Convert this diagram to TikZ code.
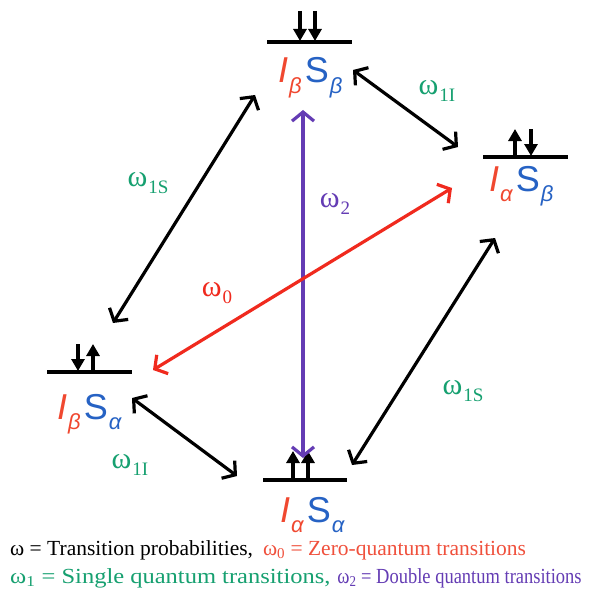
\documentclass[tikz,border=0pt]{standalone}
\usepackage{graphicx}
\usepackage{fontspec}
\setmainfont{Liberation Serif}
\newfontfamily\lsans{Liberation Sans}
\usetikzlibrary{arrows.meta}
\definecolor{ired}{RGB}{240,72,48}
\definecolor{sblue}{RGB}{38,98,196}
\definecolor{wgreen}{RGB}{22,160,112}
\definecolor{wpurple}{RGB}{100,60,180}
\definecolor{wred}{RGB}{240,42,30}
\definecolor{lred}{RGB}{240,80,60}
\newcommand\spinlab[2]{{\lsans\fontsize{36}{36}\selectfont\color{ired}\itshape I\kern1pt\raisebox{-0.3em}{\fontsize{22}{22}\selectfont #1}\kern3pt\upshape\color{sblue}S\kern1pt\itshape\raisebox{-0.3em}{\fontsize{22}{22}\selectfont #2}}}
\newcommand\omlab[1]{\fontsize{30}{30}\selectfont ω\kern1pt\raisebox{-0.25em}{\fontsize{19}{19}\selectfont #1}}
\tikzset{
  level/.style={line width=3.6pt},
  spin/.style={line width=3.6pt,-{Triangle[length=12pt,width=13pt]}},
  tr/.style={line width=3.2pt,{Straight Barb[length=9pt,width=22pt]}-{Straight Barb[length=9pt,width=22pt]}},
  lab/.style={inner sep=0pt,anchor=base west},
  om/.style={inner sep=0pt,text=wgreen},
}
\begin{document}
\begin{tikzpicture}[x=1pt,y=-1pt]
\useasboundingbox[fill=white] (0,0) rectangle (590,591);
% levels
\draw[level] (267,42) -- (352,42);
\draw[level] (483,157) -- (568,157);
\draw[level] (47,372) -- (132,372);
\draw[level] (263,480) -- (347,480);
% spins
\draw[spin] (300,11) -- (300,41);
\draw[spin] (315,11) -- (315,41);
\draw[spin] (515,156) -- (515,129);
\draw[spin] (531,129) -- (531,156);
\draw[spin] (78,344) -- (78,371);
\draw[spin] (93,371) -- (93,344);
\draw[spin] (293,479) -- (293,451);
\draw[spin] (308,479) -- (308,451);
% labels
\node[lab] (bb) at (278,83) {\spinlab{β}{β}};
\node[lab] (ab) at (489,191) {\spinlab{α}{β}};
\node[lab] (ba) at (57,419) {\spinlab{β}{α}};
\node[lab] (aa) at (280,522) {\spinlab{α}{α}};
% arrow endpoints
\coordinate (p1) at (255,95);  \coordinate (p2) at (113,323);
\coordinate (q1) at (353,70);  \coordinate (q2) at (458,147);
\coordinate (r1) at (452,188); \coordinate (r2) at (153,370);
\coordinate (s1) at (303,110); \coordinate (s2) at (303,458);
\coordinate (t1) at (132,398); \coordinate (t2) at (237,476);
\coordinate (u1) at (495,238); \coordinate (u2) at (352,465);
\draw[tr] (p1) -- (p2);
\draw[tr] (q1) -- (q2);
\draw[tr] (t1) -- (t2);
\draw[tr] (u1) -- (u2);
\draw[tr,wpurple] (s1) -- (s2);
\draw[tr,wred] (r1) -- (r2);
% omega labels
\node[om] (w1) at (148,183) {\omlab{1S}};
\node[om] (w2) at (437,91) {\omlab{1I}};
\node[om,text=wpurple] (w3) at (335,204) {\omlab{2}};
\node[om,text=wred] (w4) at (217,293) {\omlab{0}};
\node[om] (w5) at (463,391) {\omlab{1S}};
\node[om] (w6) at (130,465) {\omlab{1I}};
% legend
\node[inner sep=0pt,anchor=base west] (leg1) at (10,555) {\fontsize{21.5}{21.5}\selectfont ω = Transition probabilities,\hspace{10pt}\textcolor{lred}{ω\textsubscript{0} = Zero-quantum transitions}};
\node[inner sep=0pt,anchor=base west] (leg2) at (10,583) {\fontsize{21.5}{21.5}\selectfont \textcolor{wgreen}{\scalebox{1.14}[1]{ω\textsubscript{1} = Single quantum transitions,}}\hspace{7pt}\textcolor{wpurple}{\scalebox{0.86}[1]{ω\textsubscript{2} = Double quantum transitions}}};
\end{tikzpicture}
\end{document}
